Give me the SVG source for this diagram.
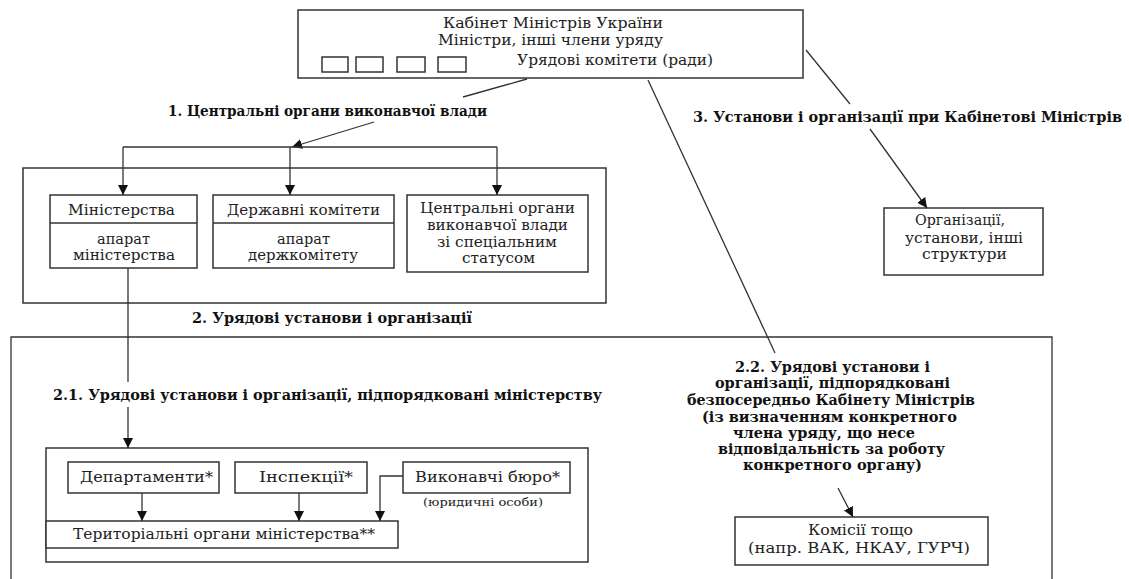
<svg xmlns="http://www.w3.org/2000/svg" width="1129" height="579" viewBox="0 0 1129 579">
<style>
.bx{fill:#fff;stroke:#333;stroke-width:1.5}
.ln{fill:none;stroke:#333;stroke-width:1.3}
.t{font-family:"DejaVu Serif",serif;font-size:15px;fill:#222}
.b{font-family:"DejaVu Serif",serif;font-size:14px;font-weight:bold;fill:#111}
.s{font-family:"DejaVu Serif",serif;font-size:11px;fill:#222}
</style>
<defs>
<marker id="ah" markerUnits="userSpaceOnUse" markerWidth="11" markerHeight="11" refX="10" refY="5" orient="auto">
<path d="M0,0 L10,5 L0,10 z" fill="#111"/>
</marker>
</defs>
<rect width="1129" height="579" fill="#fff"/>

<g id="frame-outer2">
<path class="ln" d="M11,582 V337 H1052 V582" stroke-width="1.5"/>
</g>
<g id="frame-central">
<rect class="bx" x="23" y="168" width="583" height="135"/>
</g>

<g id="cabinet">
<rect class="bx" x="298" y="10" width="505" height="68"/>
<text class="t" x="443" y="28" textLength="220" lengthAdjust="spacingAndGlyphs">Кабінет Міністрів України</text>
<text class="t" x="438" y="45" textLength="225" lengthAdjust="spacingAndGlyphs">Міністри, інші члени уряду</text>
<text class="t" x="517" y="65" textLength="196" lengthAdjust="spacingAndGlyphs">Урядові комітети (ради)</text>
<rect class="bx" x="322" y="57" width="26" height="15" stroke-width="1.2"/>
<rect class="bx" x="356" y="57" width="27" height="15" stroke-width="1.2"/>
<rect class="bx" x="397" y="57" width="28" height="15" stroke-width="1.2"/>
<rect class="bx" x="438" y="57" width="28" height="15" stroke-width="1.2"/>
</g>

<g id="label1">
<text class="b" x="168" y="116" textLength="319" lengthAdjust="spacingAndGlyphs">1. Центральні органи виконавчої влади</text>
</g>
<g id="label2">
<text class="b" x="192" y="323" textLength="280" lengthAdjust="spacingAndGlyphs">2. Урядові установи і організації</text>
</g>
<g id="label21">
<text class="b" x="53" y="400" textLength="549" lengthAdjust="spacingAndGlyphs">2.1. Урядові установи і організації, підпорядковані міністерству</text>
</g>
<g id="label3">
<text class="b" x="693" y="122" textLength="429" lengthAdjust="spacingAndGlyphs">3. Установи і організації при Кабінетові Міністрів</text>
</g>
<g id="label22">
<text class="b" x="735" y="372" textLength="195" lengthAdjust="spacingAndGlyphs">2.2. Урядові установи і</text>
<text class="b" x="715" y="388" textLength="235" lengthAdjust="spacingAndGlyphs">організації, підпорядковані</text>
<text class="b" x="687" y="405" textLength="288" lengthAdjust="spacingAndGlyphs">безпосередньо Кабінету Міністрів</text>
<text class="b" x="702" y="422" textLength="255" lengthAdjust="spacingAndGlyphs">(із визначенням конкретного</text>
<text class="b" x="733" y="438" textLength="182" lengthAdjust="spacingAndGlyphs">члена уряду, що несе</text>
<text class="b" x="718" y="454" textLength="227" lengthAdjust="spacingAndGlyphs">відповідальність за роботу</text>
<text class="b" x="743" y="470" textLength="179" lengthAdjust="spacingAndGlyphs">конкретного органу)</text>
</g>

<g id="ministries">
<rect class="bx" x="50" y="195" width="147" height="73"/>
<line class="ln" x1="50" y1="223" x2="197" y2="223"/>
<text class="t" x="68" y="215" textLength="107" lengthAdjust="spacingAndGlyphs">Міністерства</text>
<text class="t" x="97" y="244" textLength="53" lengthAdjust="spacingAndGlyphs">апарат</text>
<text class="t" x="73" y="260" textLength="102" lengthAdjust="spacingAndGlyphs">міністерства</text>
</g>
<g id="committees">
<rect class="bx" x="213" y="195" width="181" height="73"/>
<line class="ln" x1="213" y1="223" x2="394" y2="223"/>
<text class="t" x="227" y="215" textLength="153" lengthAdjust="spacingAndGlyphs">Державні комітети</text>
<text class="t" x="277" y="244" textLength="53" lengthAdjust="spacingAndGlyphs">апарат</text>
<text class="t" x="248" y="260" textLength="110" lengthAdjust="spacingAndGlyphs">держкомітету</text>
</g>
<g id="special">
<rect class="bx" x="407" y="195" width="181" height="77"/>
<text class="t" x="420" y="213" textLength="155" lengthAdjust="spacingAndGlyphs">Центральні органи</text>
<text class="t" x="427" y="230" textLength="141" lengthAdjust="spacingAndGlyphs">виконавчої влади</text>
<text class="t" x="437" y="247" textLength="120" lengthAdjust="spacingAndGlyphs">зі спеціальним</text>
<text class="t" x="462" y="263" textLength="73" lengthAdjust="spacingAndGlyphs">статусом</text>
</g>

<g id="organizations">
<rect class="bx" x="884" y="208" width="159" height="67"/>
<text class="t" x="915" y="225" textLength="90" lengthAdjust="spacingAndGlyphs">Організації,</text>
<text class="t" x="905" y="243" textLength="118" lengthAdjust="spacingAndGlyphs">установи, інші</text>
<text class="t" x="922" y="259" textLength="85" lengthAdjust="spacingAndGlyphs">структури</text>
</g>

<g id="ministry-subordinate">
<rect class="bx" x="46" y="448" width="542" height="114"/>
</g>
<g id="departments">
<rect class="bx" x="68" y="462" width="151" height="31"/>
<text class="t" x="80" y="482" textLength="133" lengthAdjust="spacingAndGlyphs">Департаменти*</text>
</g>
<g id="inspections">
<rect class="bx" x="235" y="462" width="132" height="31"/>
<text class="t" x="259" y="482" textLength="94" lengthAdjust="spacingAndGlyphs">Інспекції*</text>
</g>
<g id="exec-bureau">
<rect class="bx" x="403" y="462" width="167" height="31"/>
<text class="t" x="415" y="482" textLength="145" lengthAdjust="spacingAndGlyphs">Виконавчі бюро*</text>
<text class="s" x="423" y="506" textLength="120" lengthAdjust="spacingAndGlyphs">(юридичні особи)</text>
</g>
<g id="territorial">
<rect class="bx" x="46" y="521" width="352" height="27"/>
<text class="t" x="73" y="539" textLength="302" lengthAdjust="spacingAndGlyphs">Територіальні органи міністерства**</text>
</g>

<g id="commissions">
<rect class="bx" x="735" y="517" width="253" height="48"/>
<text class="t" x="808" y="535" textLength="105" lengthAdjust="spacingAndGlyphs">Комісії тощо</text>
<text class="t" x="748" y="553" textLength="222" lengthAdjust="spacingAndGlyphs">(напр. ВАК, НКАУ, ГУРЧ)</text>
</g>

<g id="connectors">
<line class="ln" x1="527" y1="79" x2="463" y2="97"/>
<line class="ln" x1="374" y1="122" x2="292" y2="147" marker-end="url(#ah)"/>
<line class="ln" x1="123" y1="147" x2="497" y2="147"/>
<line class="ln" x1="123" y1="147" x2="123" y2="195" marker-end="url(#ah)"/>
<line class="ln" x1="290" y1="147" x2="290" y2="195" marker-end="url(#ah)"/>
<line class="ln" x1="497" y1="147" x2="497" y2="195" marker-end="url(#ah)"/>
<line class="ln" x1="806" y1="50" x2="850" y2="104"/>
<line class="ln" x1="870" y1="129" x2="927" y2="208" marker-end="url(#ah)"/>
<line class="ln" x1="648" y1="80" x2="775" y2="353"/>
<line class="ln" x1="838" y1="488" x2="853" y2="517" marker-end="url(#ah)"/>
<line class="ln" x1="128" y1="268" x2="128" y2="382"/>
<line class="ln" x1="128" y1="407" x2="128" y2="448" marker-end="url(#ah)"/>
<line class="ln" x1="142" y1="493" x2="142" y2="521" marker-end="url(#ah)"/>
<line class="ln" x1="299" y1="493" x2="299" y2="521" marker-end="url(#ah)"/>
<path class="ln" d="M403,476 H380 V521" marker-end="url(#ah)"/>
</g>
</svg>
